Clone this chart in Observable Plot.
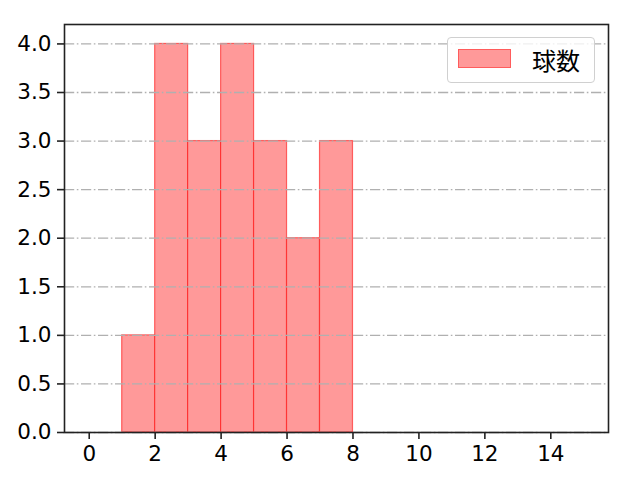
<!DOCTYPE html>
<html>
<head>
<meta charset="utf-8">
<script src="https://cdn.jsdelivr.net/npm/d3@7"></script>
<script src="https://cdn.jsdelivr.net/npm/@observablehq/plot@0.6"></script>
<style>
  body { margin: 0; background: #fff; }
  #wrap { position: relative; width: 640px; height: 480px; font-family: "Noto Sans CJK JP", "DejaVu Sans", sans-serif; }
  #legend { position: absolute; left: 447px; top: 37px; width: 148px; height: 46px; border: 1px solid #d0d0d0; border-radius: 4px; background: rgba(255,255,255,0.8); box-sizing: border-box; }
  #legend .sw { position: absolute; left: 10px; top: 11px; width: 53px; height: 19px; background: rgb(255,153,153); border: 1px solid rgba(255,0,0,0.4); box-sizing: border-box; }
  #legend .lb { position: absolute; left: 84px; top: 5px; font-size: 24px; line-height: 34px; color: #000; }
</style>
</head>
<body>
<div id="wrap"><div id="legend"><div class="sw"></div><div class="lb"></div></div></div>
<script>
const binStart = [1, 2, 3, 4, 5, 6, 7];
const binEnd   = [2, 3, 4, 5, 6, 7, 8];
const counts   = [1, 4, 3, 4, 3, 2, 3];
const xTicks = [0, 2, 4, 6, 8, 10, 12, 14];
const yTicks = [0, 0.5, 1, 1.5, 2, 2.5, 3, 3.5, 4];
const seriesName = "球数";

const data = binStart.map((s, i) => ({x1: s, x2: binEnd[i], y: counts[i]}));

document.querySelector("#legend .lb").textContent = seriesName;

const chart = Plot.plot({
  width: 640,
  height: 480,
  marginLeft: 64,
  marginRight: 32,
  marginTop: 24,
  marginBottom: 48,
  style: {fontFamily: "'DejaVu Sans', sans-serif", fontSize: "21.5px", color: "#000", background: "#fff"},
  x: {domain: [-0.75, 15.75], ticks: xTicks, tickFormat: d3.format("d")},
  y: {domain: [0, 4.2], ticks: yTicks, tickFormat: d3.format(".1f")},
  marks: [
    Plot.rectY(data, {x1: "x1", x2: "x2", y: "y", fill: "rgb(255,153,153)", stroke: "red", strokeOpacity: 0.55, strokeWidth: 1.2, insetLeft: 0, insetRight: 0}),
    Plot.gridY(yTicks, {stroke: "#b0b0b0", strokeOpacity: 1, strokeWidth: 1.3, strokeDasharray: "10.2,2.6,1.6,2.6"}),
    Plot.axisX({ticks: xTicks, tickSize: 7, tickPadding: 6, tickFormat: d3.format("d"), label: null, stroke: "#222", strokeWidth: 1.6, fontSize: 21.5}),
    Plot.axisY({ticks: yTicks, tickSize: 7, tickPadding: 6, tickFormat: d3.format(".1f"), label: null, stroke: "#222", strokeWidth: 1.6, fontSize: 21.5}),
    Plot.frame({stroke: "#222", strokeWidth: 1.6})
  ]
});
document.getElementById("wrap").prepend(chart);
</script>
</body>
</html>
